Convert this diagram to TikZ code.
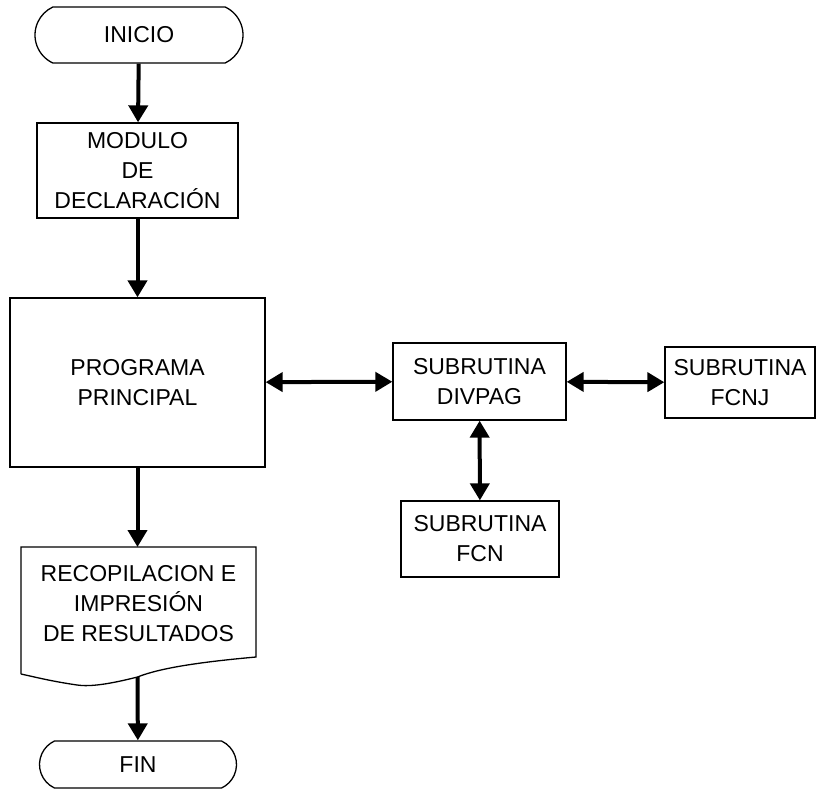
\documentclass[tikz,border=0pt]{standalone}
\usepackage{fontspec}
\setmainfont{Liberation Sans}
\usetikzlibrary{shapes.misc,arrows.meta}
\begin{document}
\begin{tikzpicture}[x=1pt,y=-1pt,
  txt/.style={font=\fontsize{23}{30}\selectfont,align=center,inner sep=0pt},
  box/.style={txt,draw,line width=1.3pt,rectangle},
  term/.style={txt,draw,line width=1.3pt,rounded rectangle,rounded rectangle arc length=130},
  flow/.style={line width=4pt,-{Triangle[length=17pt,width=19pt]}},
  both/.style={line width=4pt,{Triangle[length=17pt,width=19pt]}-{Triangle[length=17pt,width=19pt]}}]
\useasboundingbox (0,0) rectangle (817,788);
\node[term,minimum width=208pt,minimum height=56pt] (inicio) at (139,35) {INICIO};
\node[box,minimum width=201pt,minimum height=95pt] (modulo) at (137.5,170.5) {MODULO\\DE\\DECLARACIÓN};
\node[box,minimum width=255pt,minimum height=169pt] (prog) at (137.5,382.5) {PROGRAMA\\PRINCIPAL};
\node[box,minimum width=173pt,minimum height=77pt] (divpag) at (479.5,381.5) {SUBRUTINA\\DIVPAG};
\node[box,minimum width=150pt,minimum height=71pt] (fcnj) at (740,382.5) {SUBRUTINA\\FCNJ};
\node[box,minimum width=158pt,minimum height=76pt] (fcn) at (480,539) {SUBRUTINA\\FCN};
\node[txt] (doc) at (138.5,604) {RECOPILACION E\\IMPRESIÓN\\DE RESULTADOS};
\coordinate (doctop) at (137.5,547);
\coordinate (docbot) at (137.5,677);
\draw[line width=1.3pt] (21,674) -- (21,547) -- (256,547) -- (256,657)
  .. controls (200,662) and (160,668) .. (docbot)
  .. controls (110,684) and (90,687) .. (77,685)
  .. controls (50,681) and (35,677) .. (21,674);
\node[term,minimum width=197pt,minimum height=47pt] (fin) at (138,764.5) {FIN};
\draw[flow] (inicio) -- (modulo);
\draw[flow] (modulo) -- (prog);
\draw[flow] (prog) -- (doctop);
\draw[flow] (docbot) -- (fin);
\draw[both] (prog) -- (divpag);
\draw[both] (divpag) -- (fcnj);
\draw[both] (divpag) -- (fcn);
\end{tikzpicture}
\end{document}
